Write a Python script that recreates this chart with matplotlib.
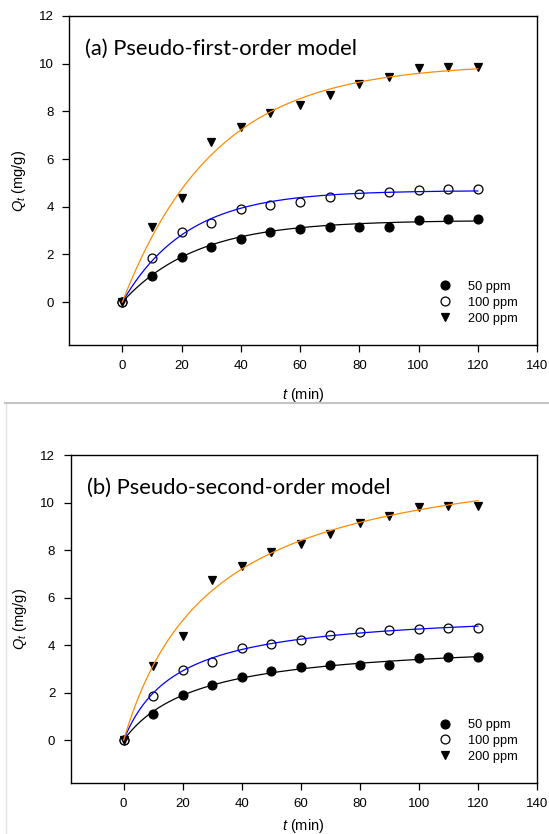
import numpy as np
import matplotlib
matplotlib.use("Agg")
import matplotlib.pyplot as plt
from matplotlib.lines import Line2D

plt.rcParams['font.family'] = ['Liberation Sans', 'DejaVu Sans']
plt.rcParams['mathtext.fontset'] = 'custom'
plt.rcParams['mathtext.rm'] = 'Liberation Sans'
plt.rcParams['mathtext.it'] = 'Liberation Sans:italic'

# contact time (min)
t = [0, 10, 20, 30, 40, 50, 60, 70, 80, 90, 100, 110, 120]

# measured uptake Qt (mg/g)
q_50 = [0, 1.09, 1.89, 2.31, 2.66, 2.92, 3.06, 3.17, 3.17, 3.17, 3.44, 3.50, 3.50]
q_100 = [0, 1.86, 2.95, 3.30, 3.89, 4.06, 4.20, 4.41, 4.55, 4.63, 4.70, 4.73, 4.74]
q_200 = [0, 3.13, 4.38, 6.73, 7.33, 7.92, 8.25, 8.69, 9.15, 9.45, 9.83, 9.85, 9.86]

labels = ['50 ppm', '100 ppm', '200 ppm']
markers = ['o', 'o', 'v']
faces = ['black', 'white', 'black']
line_colors = ['black', '#0000ff', '#ff8c00']

# fitted parameters: qe (mg/g), rate constant k
pfo_qe = [3.43, 4.68, 10.0]
pfo_k = [0.040, 0.046, 0.032]
pso_qe = [4.25, 5.51, 12.6]
pso_k = [1 / (4.25 * 25.0), 1 / (5.51 * 17.75), 1 / (12.6 * 30.0)]

titles = ['(a) Pseudo-first-order model', '(b) Pseudo-second-order model']

W, H = 549, 834
fig = plt.figure(figsize=(W / 100, H / 100), dpi=100)

# screenshot separator between the two panels
fig.add_artist(Line2D([5 / W, 1], [1 - 403 / H, 1 - 403 / H], color='#c4c4c4', lw=1.5))
fig.add_artist(Line2D([6 / W, 6 / W], [0, 1 - 404 / H], color='#e2e2e2', lw=1.0))

boxes = [[69, 16, 537, 345], [70.5, 455, 537, 783]]
tt = np.linspace(0, 120, 300)
series = [q_50, q_100, q_200]

for i, (l, tp, r, b) in enumerate(boxes):
    ax = fig.add_axes([l / W, 1 - b / H, (r - l) / W, (b - tp) / H])
    for j in range(3):
        ax.plot(t, series[j], linestyle='none', marker=markers[j], ms=6.4,
                mfc=faces[j], mec='black', mew=0.9, label=labels[j], zorder=2)
        if i == 0:
            fit = pfo_qe[j] * (1 - np.exp(-pfo_k[j] * tt))
        else:
            fit = pso_qe[j] ** 2 * pso_k[j] * tt / (1 + pso_qe[j] * pso_k[j] * tt)
        ax.plot(tt, fit, color=line_colors[j], lw=0.9, zorder=3)

    ax.set_xlim(-18, 140)
    ax.set_ylim(-1.8, 12)
    ax.set_xticks(range(0, 141, 20))
    ax.set_yticks(range(0, 13, 2))
    ax.tick_params(direction='out', length=5, width=0.9, labelsize=9.5, pad=6)
    for s in ax.spines.values():
        s.set_linewidth(1.0)

    ax.set_xlabel('$t$ (min)', fontsize=10.5, labelpad=10 if i == 0 else 5)
    ax.set_ylabel('$Q_t$ (mg/g)', fontsize=10.5, labelpad=8)
    ax.text(0.035, 0.9, titles[i], transform=ax.transAxes, fontsize=15.8,
            family=['Lato', 'DejaVu Sans'], va='center', ha='left')

    leg = ax.legend(loc='upper left', bbox_to_anchor=(0.79, 0.195), frameon=False,
                    fontsize=9.2, handlelength=1.0, handletextpad=1.3,
                    labelspacing=0.3, borderpad=0, borderaxespad=0)

fig.savefig('out.png', dpi=100)
